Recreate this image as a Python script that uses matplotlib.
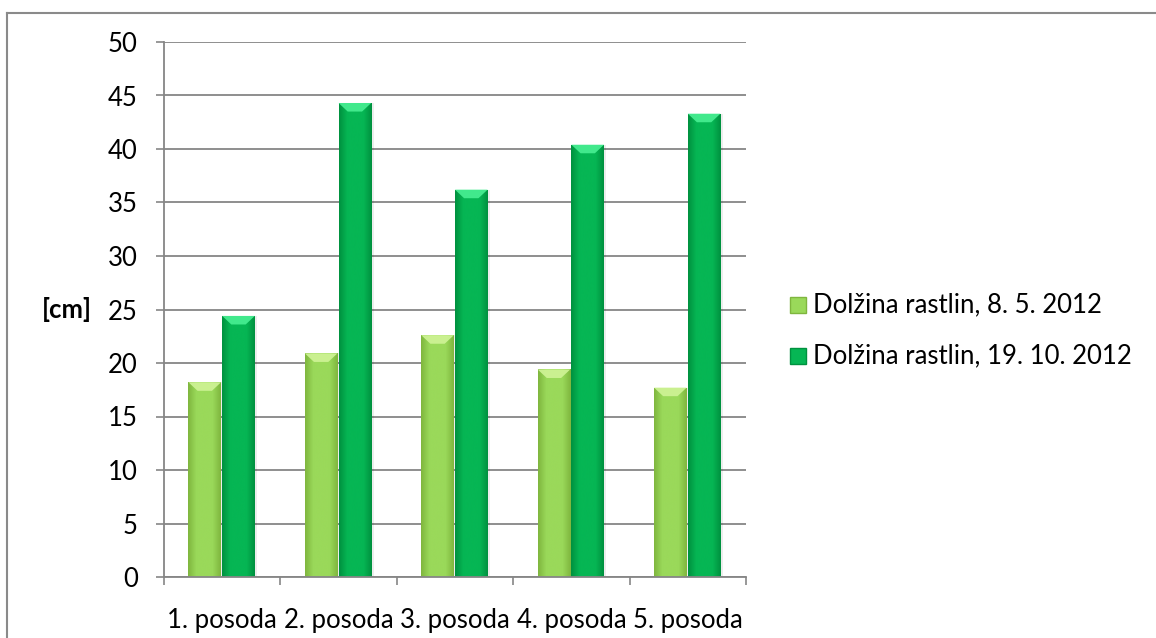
import matplotlib
matplotlib.use("Agg")

import matplotlib.pyplot as plt
import numpy as np
from matplotlib.colors import LinearSegmentedColormap
from matplotlib.lines import Line2D
from matplotlib.patches import Polygon, Rectangle

plt.rcParams["font.family"] = ["Lato", "DejaVu Sans"]

categories = ["1. posoda", "2. posoda", "3. posoda", "4. posoda", "5. posoda"]
may_lengths = [18.2, 20.9, 22.6, 19.4, 17.7]
october_lengths = [24.4, 44.3, 36.2, 40.4, 43.3]
series_labels = ["Dolžina rastlin, 8. 5. 2012", "Dolžina rastlin, 19. 10. 2012"]

GRID = "#868686"
FS = 18.5
LIGHT = {"edge": "#7fb63e", "mid": "#9ad95a", "top": "#cdf294"}
DARK = {"edge": "#00913f", "mid": "#06b654", "top": "#45ec90"}

W, H = 1156, 638
fig = plt.figure(figsize=(W / 100, H / 100), dpi=100)
ax = fig.add_axes([164 / W, 1 - 577 / H, (746 - 164) / W, (577 - 42) / H])

# chart area frame (only top and left edges are visible)
fig.add_artist(Line2D([7 / W, 1], [1 - 13 / H] * 2, color="#8a8a8a", lw=1.5))
fig.add_artist(Line2D([7 / W] * 2, [0, 1 - 13 / H], color="#8a8a8a", lw=1.5))


def shaded_bar(x0, width, height, style):
    """Bar with horizontal gradient, soft shadow and bevelled top."""
    shadow = Rectangle((x0 + 0.02, 0), width, height, facecolor="#000000",
                       alpha=0.07, edgecolor="none", zorder=2)
    ax.add_patch(shadow)
    rect = Rectangle((x0, 0), width, height, facecolor="none",
                     edgecolor="none", zorder=3)
    ax.add_patch(rect)
    cmap = LinearSegmentedColormap.from_list(
        "g", [style["edge"], style["mid"], style["mid"], style["mid"], style["edge"]])
    grad = np.linspace(0, 1, 64).reshape(1, -1)
    im = ax.imshow(grad, cmap=cmap, aspect="auto", zorder=3,
                   extent=(x0, x0 + width, 0, height), interpolation="bicubic")
    im.set_clip_path(rect)
    bev_h = 0.8
    inset = width * 0.28
    bevel = Polygon([(x0, height), (x0 + width, height),
                     (x0 + width - inset, height - bev_h),
                     (x0 + inset, height - bev_h)],
                    closed=True, facecolor=style["top"], edgecolor="none",
                    alpha=0.95, zorder=4)
    ax.add_patch(bevel)


bar_w = 0.28
x = np.arange(len(categories))
for i in range(len(categories)):
    shaded_bar(x[i] - bar_w - 0.01, bar_w, may_lengths[i], LIGHT)
    shaded_bar(x[i] + 0.0, bar_w, october_lengths[i], DARK)

ax.set_xlim(-0.5, len(categories) - 0.5)
ax.set_ylim(0, 50)
ax.set_yticks(np.arange(0, 51, 5))
ax.set_xticks(x)
ax.set_xticklabels(categories)
ax.set_xticks(np.arange(-0.5, len(categories), 1), minor=True)
ax.tick_params(axis="x", which="major", length=0, pad=22, labelsize=FS)
ax.tick_params(axis="x", which="minor", length=5.8, color=GRID, width=1.2)
ax.tick_params(axis="y", length=5.8, color=GRID, width=1.2, pad=13, labelsize=FS)

ax.grid(axis="y", color=GRID, lw=1.3)
ax.set_axisbelow(True)
for side in ("top", "right"):
    ax.spines[side].set_visible(False)
for side in ("left", "bottom"):
    ax.spines[side].set_color(GRID)
    ax.spines[side].set_linewidth(1.3)
    ax.spines[side].set_zorder(5)

fig.text(67 / W, 1 - 310 / H, "[cm]", fontsize=FS, fontweight="bold",
         ha="center", va="center")

# legend drawn by hand: small square swatch followed by the series name
for i, (label, style) in enumerate(zip(series_labels, [LIGHT, DARK])):
    yc = 305 + i * 51
    fig.add_artist(Rectangle((790 / W, 1 - (yc + 8) / H), 16 / W, 16 / H,
                             transform=fig.transFigure, facecolor=style["mid"],
                             edgecolor=style["edge"], lw=1))
    fig.text(813 / W, 1 - yc / H, label, fontsize=FS, ha="left", va="center")

fig.savefig("out.png", dpi=100, facecolor="white")
